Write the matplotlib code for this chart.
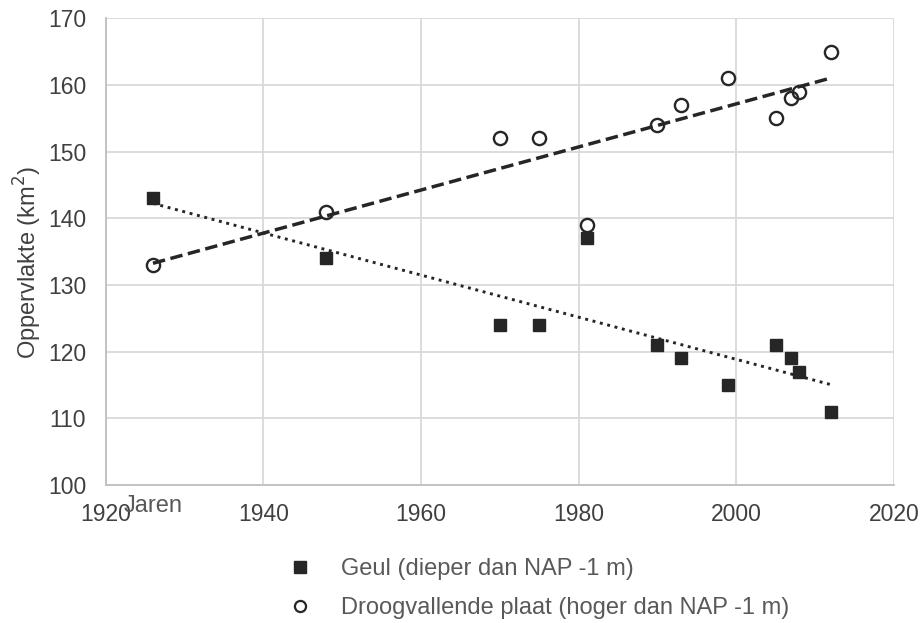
import matplotlib.pyplot as plt
import numpy as np

plt.rcParams['font.family'] = ['Liberation Sans', 'DejaVu Sans']

# Surface areas (km2) per survey year
years = [1926, 1948, 1970, 1975, 1981, 1990, 1993, 1999, 2005, 2007, 2008, 2012]
geul = [143, 134, 124, 124, 137, 121, 119, 115, 121, 119, 117, 111]
plaat = [133, 141, 152, 152, 139, 154, 157, 161, 155, 158, 159, 165]

label_geul = "Geul (dieper dan NAP -1 m)"
label_plaat = "Droogvallende plaat (hoger dan NAP -1 m)"

dark = '#262626'
grey_text = '#595959'

fig = plt.figure(figsize=(9.23, 6.23), dpi=100)
ax = fig.add_axes([0.1145, 0.2215, 0.854, 0.749])

# linear trendlines
x = np.array(years)
fit_g = np.polyfit(x, geul, 1)
fit_p = np.polyfit(x, plaat, 1)
xs = np.array([min(years), max(years)])
ax.plot(xs, np.polyval(fit_p, xs), color=dark, lw=2.5, linestyle=(0, (3.6, 1.6)), zorder=2)
ax.plot(xs, np.polyval(fit_g, xs), color=dark, lw=2.1, linestyle=(0, (1.0, 1.6)), zorder=2)

ax.plot(years, geul, 's', color=dark, markersize=8.5, linestyle='none', zorder=3)
ax.plot(years, plaat, 'o', markerfacecolor='none', markeredgecolor=dark,
        markeredgewidth=1.7, markersize=9.5, linestyle='none', zorder=4)

ax.set_xlim(1920, 2020)
ax.set_ylim(100, 170)
ax.set_xticks(range(1920, 2021, 20))
ax.set_yticks(range(100, 171, 10))
ax.grid(True, color='#d9d9d9', linewidth=1.3)
ax.set_axisbelow(True)
for side in ['top', 'right']:
    ax.spines[side].set_visible(False)
for side in ['left', 'bottom']:
    ax.spines[side].set_color('#bfbfbf')
    ax.spines[side].set_linewidth(1.3)
ax.tick_params(axis='both', length=0, labelsize=16.5, colors='#404040')
ax.tick_params(axis='x', pad=13)
ax.tick_params(axis='y', pad=14)

ax.set_ylabel("Oppervlakte (km$^2$)", fontsize=17, color='#404040')
ax.yaxis.set_label_coords(-0.078, 0.478)
ax.text(1922.3, 95.9, "Jaren", fontsize=17, color=grey_text, ha='left', va='baseline',
        clip_on=False)

leg_sq, = ax.plot([], [], 's', color=dark, markersize=8)
leg_ci, = ax.plot([], [], 'o', markerfacecolor='none', markeredgecolor=dark,
                  markeredgewidth=1.6, markersize=8)
fig.legend([leg_sq, leg_ci], [label_geul, label_plaat], loc='upper left',
           bbox_to_anchor=(0.312, 0.104), frameon=False, fontsize=17,
           borderpad=0, borderaxespad=0,
           labelcolor=grey_text, handlelength=1.0, handletextpad=1.25, labelspacing=0.73)

fig.savefig('out.png', dpi=100)
